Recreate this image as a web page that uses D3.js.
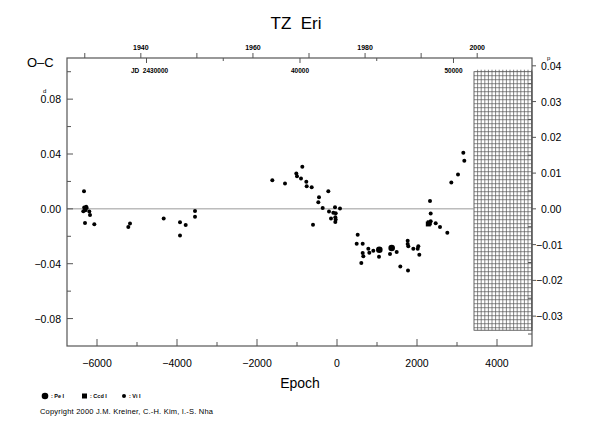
<!DOCTYPE html>
<html>
<head>
<meta charset="utf-8">
<script src="https://cdn.jsdelivr.net/npm/d3@7"></script>
<style>
  body { margin: 0; background: #fff; }
  svg { font-family: "Liberation Sans", Arial, sans-serif; }
</style>
</head>
<body>
<div id="chart"></div>
<script>
const viEpoch = [-6325, -6300, -6270, -6342, -6258, -6290, -6320, -6192, -6175, -6300, -6067,
  -5217, -5175, -4333, -3925, -3783, -3925, -3550, -3550,
  -1617, -1300, -867, -1017, -1000, -900, -767, -758, -633, -217, -450, -467, -358, -200,
  -50, 75, -92, -33, -150, -42, -33, -42, -600,
  517, 492, 642, 642, 658, 783, 808, 608, 908, 1050, 1325, 1492, 1583, 1775,
  1767, 1767, 1783, 1908, 2033, 2017, 2058,
  2325, 2342, 2342, 2467, 2575, 2758, 2858, 3025, 3158, 3183];
const viOC = [0.0129, 0.0000, 0.0015, -0.0017, 0.0007, -0.0010, 0.0010, -0.0020, -0.0045, -0.0103, -0.0113,
  -0.0132, -0.0107, -0.0071, -0.0098, -0.0117, -0.0195, -0.0015, -0.0058,
  0.0209, 0.0185, 0.0307, 0.0258, 0.0238, 0.0221, 0.0197, 0.0165, 0.0158, 0.0129, 0.0085, 0.0048, 0.0007, -0.0020,
  0.0012, 0.0002, -0.0029, -0.0032, -0.0071, -0.0061, -0.0078, -0.0095, -0.0115,
  -0.0188, -0.0254, -0.0254, -0.0322, -0.0346, -0.0290, -0.0320, -0.0395, -0.0305, -0.0349, -0.0329, -0.0314, -0.0420, -0.0449,
  -0.0232, -0.0256, -0.0273, -0.0290, -0.0273, -0.0290, -0.0334,
  0.0058, -0.0034, -0.0091, -0.0105, -0.0132, -0.0175, 0.0192, 0.0251, 0.0409, 0.0351];
const peEpoch = [1058, 1367];
const peOC = [-0.0298, -0.0285];
const ccdEpoch = [2283, 2308];
const ccdOC = [-0.0110, -0.0102];

// tick labels
const bottomTicks = [-6000, -4000, -2000, 0, 2000, 4000];
const leftTicks = [0.08, 0.04, 0.00, -0.04, -0.08];
const rightTicks = [0.04, 0.03, 0.02, 0.01, 0.00, -0.01, -0.02, -0.03];
const yearTicks = [1940, 1960, 1980, 2000];
const jdTicks = [2430000, 2440000, 2450000];
const jdLabels = ["JD  2430000", "40000", "50000"];

// ephemeris used for the top axes
const T0 = 2442411, P = 2.6061;
const phaseScale = 0.3835;   // right axis / left axis
const futureEpoch = 3425;    // start of the shaded (future) zone

const width = 590, height = 425;
const margin = { top: 58, right: 58, bottom: 79, left: 67 };
const x0 = margin.left, x1 = width - margin.right;
const yTop = margin.top, yBot = height - margin.bottom;
const axisColor = "#555";

const svg = d3.select("#chart").append("svg")
  .attr("width", width)
  .attr("height", height);

// scales
const x = d3.scaleLinear().domain([-6750, 4875]).range([x0, x1]);
const y = d3.scaleLinear().domain([-0.1, 0.11]).range([yBot, yTop]);
const yR = d3.scaleLinear().domain([-0.1 * phaseScale, 0.11 * phaseScale]).range([yBot, yTop]);
const jdOf = e => T0 + P * e;
const yearOf = jd => 2000 + (jd - 2451545) / 365.25;
const xJD = d3.scaleLinear().domain(x.domain().map(jdOf)).range([x0, x1]);
const xYear = d3.scaleLinear().domain(x.domain().map(e => yearOf(jdOf(e)))).range([x0, x1]);

// title
svg.append("text")
  .attr("x", 296).attr("y", 29)
  .attr("text-anchor", "middle")
  .style("font-size", "17px")
  .style("white-space", "pre")
  .text("TZ  Eri");

svg.append("text")
  .attr("x", 27).attr("y", 67)
  .style("font-size", "13px")
  .text("O\u2013C");

// shaded future zone: fine grid
const hatch = svg.append("g");
const hx0 = x(futureEpoch), hy0 = y(0.1), hy1 = y(-0.0885);
hatch.append("rect")
  .attr("x", hx0).attr("y", hy0)
  .attr("width", x1 - hx0).attr("height", hy1 - hy0)
  .attr("fill", "#fff").attr("stroke", "#444").attr("stroke-width", 0.8);
d3.range(hx0 + 3.6, x1, 3.6).forEach(v => {
  hatch.append("line")
    .attr("x1", v).attr("x2", v).attr("y1", hy0 - 2).attr("y2", hy1)
    .attr("stroke", "#555").attr("stroke-width", 0.7);
});
d3.range(hy0 + 4, hy1, 4).forEach(v => {
  hatch.append("line")
    .attr("x1", hx0).attr("x2", x1).attr("y1", v).attr("y2", v)
    .attr("stroke", "#555").attr("stroke-width", 0.7);
});

// zero line
svg.append("line")
  .attr("x1", x0).attr("x2", hx0)
  .attr("y1", y(0)).attr("y2", y(0))
  .attr("stroke", "#999").attr("stroke-width", 1);

// frame
svg.append("rect")
  .attr("x", x0).attr("y", yTop)
  .attr("width", x1 - x0).attr("height", yBot - yTop)
  .attr("fill", "none").attr("stroke", axisColor).attr("stroke-width", 1.2);

const ticks = svg.append("g").attr("stroke", axisColor).attr("stroke-width", 1);

// bottom ticks (inward)
d3.range(-6000, 4001, 1000).forEach(e => {
  const len = e % 2000 === 0 ? 7 : 4;
  ticks.append("line").attr("x1", x(e)).attr("x2", x(e)).attr("y1", yBot).attr("y2", yBot - len);
});
// left ticks (inward)
d3.range(-0.08, 0.1001, 0.02).forEach(v => {
  const len = Math.abs(Math.round(v * 100)) % 4 === 0 ? 6 : 4;
  ticks.append("line").attr("x1", x0).attr("x2", x0 + len).attr("y1", y(v)).attr("y2", y(v));
});
// right ticks: majors outward, halves inward
d3.range(-0.03, 0.0401, 0.01).forEach(v => {
  ticks.append("line").attr("x1", x1).attr("x2", x1 + 4).attr("y1", yR(v)).attr("y2", yR(v));
});
d3.range(-0.035, 0.0401, 0.01).forEach(v => {
  ticks.append("line").attr("x1", x1).attr("x2", x1 - 4).attr("y1", yR(v)).attr("y2", yR(v));
});
// year ticks (outward, top)
d3.range(1930, 2001, 10).forEach(yr => {
  ticks.append("line").attr("x1", xYear(yr)).attr("x2", xYear(yr)).attr("y1", yTop).attr("y2", yTop - 5);
});
// JD ticks (inward, top)
d3.range(2430000, 2450001, 5000).forEach(jd => {
  const len = jd % 10000 === 0 ? 5 : 3;
  ticks.append("line").attr("x1", xJD(jd)).attr("x2", xJD(jd)).attr("y1", yTop).attr("y2", yTop + len);
});

// tick labels
svg.append("g").selectAll("text")
  .data(bottomTicks).enter().append("text")
  .attr("x", d => x(d)).attr("y", yBot + 21)
  .attr("text-anchor", "middle")
  .style("font-size", "10.5px")
  .text(d => d < 0 ? "\u2212" + Math.abs(d) : d);

svg.append("text")
  .attr("x", 300).attr("y", 388)
  .attr("text-anchor", "middle")
  .style("font-size", "14px")
  .text("Epoch");

const fmt = d3.format(".2f");
const sgn = v => (v < 0 ? "\u2212" : "") + fmt(Math.abs(v));

svg.append("g").selectAll("text")
  .data(leftTicks).enter().append("text")
  .attr("x", x0 - 6).attr("y", d => y(d) + 4)
  .attr("text-anchor", "end")
  .style("font-size", "10.5px")
  .text(d => sgn(d));
svg.append("text").attr("x", 43).attr("y", y(0.08) - 6).style("font-size", "6px").text("d");

svg.append("g").selectAll("text")
  .data(rightTicks).enter().append("text")
  .attr("x", d => d < 0 ? x1 + 4 : x1 + 9).attr("y", d => yR(d) + 4)
  .style("font-size", "10.5px")
  .text(d => sgn(d));
svg.append("text").attr("x", x1 + 15).attr("y", yR(0.04) - 6).style("font-size", "6px").text("p");

svg.append("g").selectAll("text")
  .data(yearTicks).enter().append("text")
  .attr("x", d => xYear(d)).attr("y", yTop - 8)
  .attr("text-anchor", "middle")
  .style("font-size", "7px").style("font-weight", "bold")
  .text(d => d);

svg.append("g").selectAll("text")
  .data(jdTicks).enter().append("text")
  .attr("x", (d, i) => xJD(d) + (i === 0 ? 3 : 0)).attr("y", yTop + 15)
  .attr("text-anchor", "middle")
  .style("font-size", "6.5px").style("font-weight", "bold")
  .style("white-space", "pre")
  .text((d, i) => jdLabels[i]);

// points
const pts = svg.append("g").attr("fill", "#000");
pts.selectAll(".vi")
  .data(viEpoch.map((e, i) => [e, viOC[i]]))
  .enter().append("circle")
  .attr("cx", d => x(d[0])).attr("cy", d => y(d[1])).attr("r", 2);
pts.selectAll(".pe")
  .data(peEpoch.map((e, i) => [e, peOC[i]]))
  .enter().append("circle")
  .attr("cx", d => x(d[0])).attr("cy", d => y(d[1])).attr("r", 3.3);
pts.selectAll(".ccd")
  .data(ccdEpoch.map((e, i) => [e, ccdOC[i]]))
  .enter().append("rect")
  .attr("x", d => x(d[0]) - 2.5).attr("y", d => y(d[1]) - 2.5)
  .attr("width", 5).attr("height", 5);

// legend
const lg = svg.append("g").style("font-size", "5.5px").style("font-weight", "bold");
lg.append("circle").attr("cx", 45).attr("cy", 396).attr("r", 3.3);
lg.append("text").attr("x", 51).attr("y", 398).text(": Pe I");
lg.append("rect").attr("x", 82).attr("y", 393.5).attr("width", 5).attr("height", 5);
lg.append("text").attr("x", 90).attr("y", 398).text(": Ccd I");
lg.append("circle").attr("cx", 124).attr("cy", 396).attr("r", 2);
lg.append("text").attr("x", 129).attr("y", 398).text(": Vi I");

svg.append("text")
  .attr("x", 40).attr("y", 414)
  .attr("textLength", 173)
  .style("font-size", "7.5px")
  .text("Copyright 2000 J.M. Kreiner, C.-H. Kim, I.-S. Nha");
</script>
</body>
</html>
